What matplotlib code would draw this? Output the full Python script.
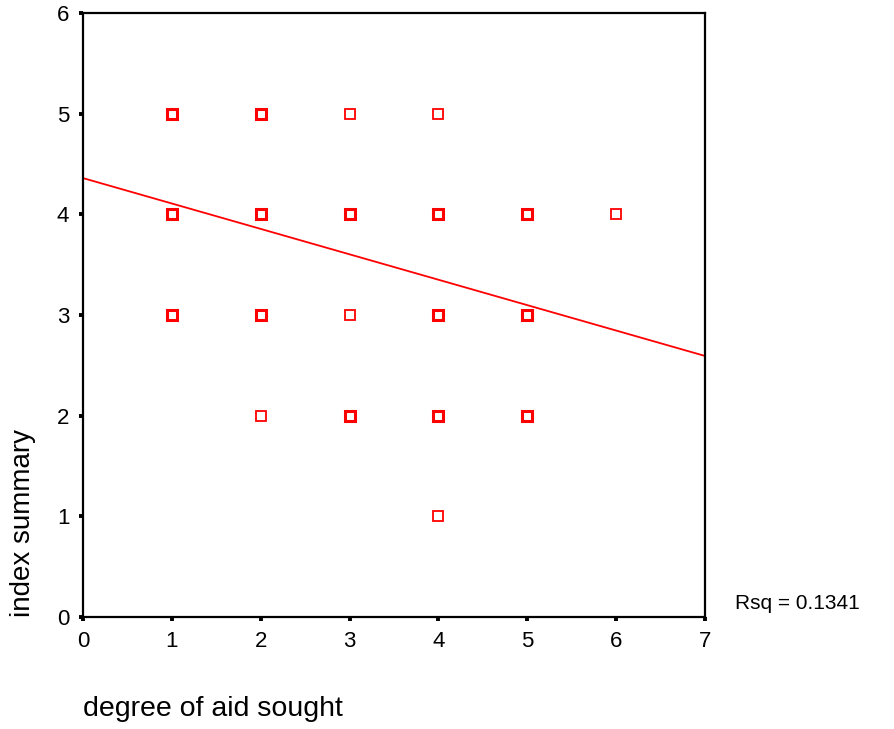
import numpy as np
import matplotlib.pyplot as plt

plt.rcParams['font.family'] = ['Liberation Sans', 'DejaVu Sans']

# observed (aid, index) pairs and how many cases sit on each
aid = [1, 2, 3, 4, 1, 2, 3, 4, 5, 6, 1, 2, 3, 4, 5, 2, 3, 4, 5, 4]
index = [5, 5, 5, 5, 4, 4, 4, 4, 4, 4, 3, 3, 3, 3, 3, 2, 2, 2, 2, 1]
cases = [3, 3, 1, 1, 3, 3, 3, 3, 2, 1, 3, 3, 1, 3, 2, 1, 3, 3, 2, 1]

# fitted line
intercept = 4.36
slope = -0.2524
rsq = 0.1341

red = '#ff0000'

fig = plt.figure(figsize=(8.94, 7.29), dpi=100)
ax = fig.add_axes([0.0928, 0.1536, 0.6958, 0.8286])

for xv, yv, n in zip(aid, index, cases):
    lw = 2.2 if n > 1 else 1.3
    ax.plot(xv, yv, 's', ms=6.6, mfc='white', mec=red, mew=lw, zorder=3,
            clip_on=False)

xs = np.array([0, 7])
ax.plot(xs, intercept + slope * xs, color=red, lw=1.3, zorder=2)

ax.set_xlim(0, 7)
ax.set_ylim(0, 6)
ax.set_xticks(range(8))
ax.set_yticks(range(7))
for s in ax.spines.values():
    s.set_linewidth(1.6)
ax.tick_params(direction='out', length=2.8, width=2.8, labelsize=16, pad=7)

fig.text(0.0928, 0.018, 'degree of aid sought', fontsize=20.5, ha='left',
         va='baseline')
fig.text(0.0257, 0.153, 'index summary', fontsize=20, rotation=90,
         ha='center', va='bottom')
fig.text(0.822, 0.1715, 'Rsq = {:.4f}'.format(rsq), fontsize=15,
         ha='left', va='center')

fig.savefig('out.png', dpi=100)
